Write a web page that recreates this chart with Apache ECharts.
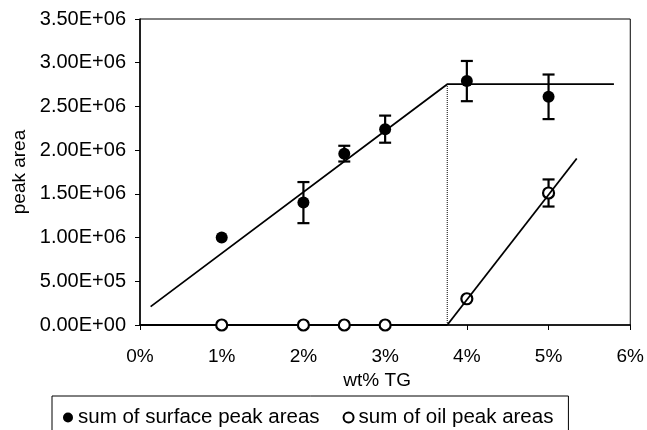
<!DOCTYPE html>
<html>
<head>
<meta charset="utf-8">
<script src="https://cdn.jsdelivr.net/npm/echarts@6/dist/echarts.min.js"></script>
<style>
html,body{margin:0;padding:0;background:#fff;}
#chart{width:647px;height:430px;}
</style>
</head>
<body>
<div id="chart"></div>
<script>
// ---- data ----
var xValues = [1, 2, 2.5, 3, 4, 5];
var surfaceValues = [1.00e6, 1.40e6, 1.96e6, 2.24e6, 2.79e6, 2.61e6];
var surfaceErrors = [0, 0.235e6, 0.09e6, 0.155e6, 0.23e6, 0.255e6];
var oilValues = [0, 0, 0, 0, 0.30e6, 1.51e6];
var oilErrors = [0, 0, 0, 0, 0, 0.155e6];
var surfaceTrend = [[0.13, 0.21e6], [3.76, 2.754e6], [5.80, 2.754e6]];
var oilTrendFlat = [[0, 0], [3.76, 0]];
var oilTrendRise = [[3.76, 0], [5.345, 1.905e6]];
var breakLine = [[3.76, 0], [3.76, 2.754e6]];
var xTicks = [0, 1, 2, 3, 4, 5, 6];
var yTicks = [0, 0.5e6, 1.0e6, 1.5e6, 2.0e6, 2.5e6, 3.0e6, 3.5e6];
var seriesNames = ['sum of surface peak areas', 'sum of oil peak areas'];
var xAxisName = 'wt% TG';
var yAxisName = 'peak area';

function sci(v) {
  if (v === 0) return '0.00E+00';
  var e = Math.floor(Math.log10(v) + 1e-9);
  var m = v / Math.pow(10, e);
  return m.toFixed(2) + 'E+' + (e < 10 ? '0' : '') + e;
}

function errData(vals, errs) {
  var out = [];
  for (var i = 0; i < xValues.length; i++) {
    if (errs[i] > 0) out.push([xValues[i], vals[i] - errs[i], vals[i] + errs[i]]);
  }
  return out;
}

function renderErr(params, api) {
  var x = api.value(0);
  var lo = api.coord([x, api.value(1)]);
  var hi = api.coord([x, api.value(2)]);
  var hw = 6;
  var st = { stroke: '#000', lineWidth: 2.2 };
  return {
    type: 'group',
    children: [
      { type: 'line', shape: { x1: lo[0], y1: lo[1], x2: hi[0], y2: hi[1] }, style: st },
      { type: 'line', shape: { x1: lo[0] - hw, y1: lo[1], x2: lo[0] + hw, y2: lo[1] }, style: st },
      { type: 'line', shape: { x1: hi[0] - hw, y1: hi[1], x2: hi[0] + hw, y2: hi[1] }, style: st }
    ]
  };
}

var FONT = '"Liberation Sans", Arial, sans-serif';
var chart = echarts.init(document.getElementById('chart'), null, { renderer: 'canvas' });

chart.setOption({
  animation: false,
  backgroundColor: '#fff',
  textStyle: { fontFamily: FONT, color: '#000' },
  grid: {
    left: 140, top: 19, right: 15, bottom: 105,
    show: true, borderColor: '#000', borderWidth: 1, backgroundColor: 'transparent'
  },
  legend: {
    left: 52, top: 396,
    padding: [11, 15, 30, 11],
    borderColor: '#000', borderWidth: 1,
    itemGap: 23, itemWidth: 10, itemHeight: 10,
    textStyle: { fontFamily: FONT, fontSize: 20.5, color: '#000' },
    data: [
      { name: seriesNames[0], icon: 'circle', itemStyle: { color: '#000', borderWidth: 0 } },
      { name: seriesNames[1], icon: 'circle', itemStyle: { color: '#fff', borderColor: '#000', borderWidth: 2 } }
    ]
  },
  xAxis: {
    type: 'value', min: 0, max: 6, interval: 1,
    name: xAxisName, nameLocation: 'middle', nameGap: 36,
    nameTextStyle: { fontFamily: FONT, fontSize: 19, color: '#000', padding: [0, 16, 0, 0] },
    axisLine: { show: true, onZero: false, lineStyle: { color: '#000', width: 1.5 } },
    axisTick: { show: true, inside: false, length: 5, lineStyle: { color: '#000' } },
    axisLabel: { fontFamily: FONT, fontSize: 19, color: '#000', margin: 22,
      formatter: function (v) { return xTicks.indexOf(v) >= 0 ? v + '%' : ''; } },
    splitLine: { show: false }
  },
  yAxis: {
    type: 'value', min: 0, max: 3.5e6, interval: 0.5e6,
    name: yAxisName, nameLocation: 'middle', nameGap: 110, nameRotate: 90,
    nameTextStyle: { fontFamily: FONT, fontSize: 19, color: '#000' },
    axisLine: { show: true, lineStyle: { color: '#000', width: 1.5 } },
    axisTick: { show: true, inside: false, length: 5, lineStyle: { color: '#000' } },
    axisLabel: { fontFamily: FONT, fontSize: 20, color: '#000', margin: 14,
      formatter: function (v) { return yTicks.indexOf(v) >= 0 ? sci(v) : ''; } },
    splitLine: { show: false }
  },
  series: [
    {
      name: 'surfaceTrend', type: 'line', data: surfaceTrend, symbol: 'none', z: 2,
      lineStyle: { color: '#000', width: 1.8 }, silent: true
    },
    {
      name: 'break', type: 'line', data: breakLine, symbol: 'none', z: 2,
      lineStyle: { color: '#000', width: 1, type: 'dotted' }, silent: true
    },
    {
      name: 'oilFlat', type: 'line', data: oilTrendFlat, symbol: 'none', z: 2,
      lineStyle: { color: '#000', width: 1.8 }, silent: true
    },
    {
      name: 'surfaceErr', type: 'custom', renderItem: renderErr, z: 3,
      data: errData(surfaceValues, surfaceErrors)
    },
    {
      name: 'oilErr', type: 'custom', renderItem: renderErr, z: 3,
      data: errData(oilValues, oilErrors)
    },
    {
      name: seriesNames[0], type: 'scatter', z: 4,
      symbol: 'circle', symbolSize: 12,
      itemStyle: { color: '#000', opacity: 1 },
      data: xValues.map(function (x, i) { return [x, surfaceValues[i]]; })
    },
    {
      name: seriesNames[1], type: 'scatter', z: 4,
      symbol: 'circle', symbolSize: 11,
      itemStyle: { color: '#fff', borderColor: '#000', borderWidth: 2.2, opacity: 1 },
      data: xValues.map(function (x, i) { return [x, oilValues[i]]; })
    },
    {
      name: 'oilRise', type: 'line', data: oilTrendRise, symbol: 'none', z: 5,
      lineStyle: { color: '#000', width: 1.8 }, silent: true
    }
  ]
});
</script>
</body>
</html>
